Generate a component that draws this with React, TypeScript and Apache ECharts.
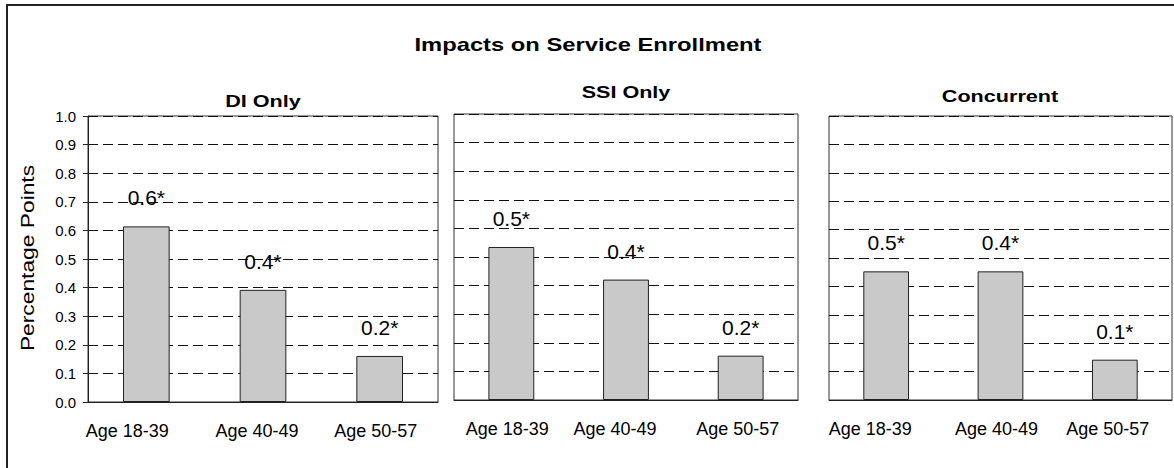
import React, { useEffect, useRef } from "react";
import * as echarts from "echarts";

// ---- Data ----
const mainTitle = "Impacts on Service Enrollment";
const yAxisTitle = "Percentage Points";
const categories = ["Age 18-39", "Age 40-49", "Age 50-57"];
const panelTitles = ["DI Only", "SSI Only", "Concurrent"];
const diValues = [0.614, 0.392, 0.161];
const ssiValues = [0.535, 0.421, 0.155];
const concurrentValues = [0.453, 0.453, 0.142];
const diLabels = ["0.6*", "0.4*", "0.2*"];
const ssiLabels = ["0.5*", "0.4*", "0.2*"];
const concurrentLabels = ["0.5*", "0.4*", "0.1*"];
const yMin = 0;
const yMax = 1;
const yStep = 0.1;

const panelValues = [diValues, ssiValues, concurrentValues];
const panelLabels = [diLabels, ssiLabels, concurrentLabels];

// ---- Layout (positions / styles only) ----
const FONT = "'Liberation Sans', Arial, Helvetica, sans-serif";
const grids = [
  { left: 88, top: 116, width: 350, height: 286 },
  { left: 454, top: 114, width: 344, height: 286 },
  { left: 829, top: 116, width: 343, height: 284 },
];
const panelTitlePos = [
  { x: 263, y: 100.5 },
  { x: 626, y: 91.7 },
  { x: 1000, y: 95.8 },
];
// leftward shift of each category label (px), per panel
const labelShift = [
  [19, 6, 4],
  [4, 11, 3],
  [16, 4, 7],
];

export default function App() {
  const ref = useRef<HTMLDivElement>(null);

  useEffect(() => {
    if (!ref.current) return;
    const chart = echarts.init(ref.current, undefined, { renderer: "svg" });

    const xAxes = grids.map((_, i) => ({
      type: "category",
      gridIndex: i,
      data: categories.map((c, j) => ({
        value: c,
        textStyle: { padding: [0, labelShift[i][j] * 2, 0, 0] },
      })),
      axisLine: { show: true, lineStyle: { color: "#222", width: 1 } },
      axisTick: { show: false },
      axisLabel: {
        color: "#000",
        fontSize: 18,
        fontFamily: FONT,
        margin: 20,
        interval: 0,
      },
      splitLine: { show: false },
    }));

    const yAxes = grids.map((_, i) => ({
      type: "value",
      gridIndex: i,
      min: yMin,
      max: yMax,
      interval: yStep,
      axisLine: { show: i === 0, lineStyle: { color: "#222", width: 1 } },
      axisTick: {
        show: i === 0,
        inside: false,
        length: 5,
        lineStyle: { color: "#222" },
      },
      axisLabel: {
        show: i === 0,
        color: "#000",
        fontSize: 15,
        fontFamily: FONT,
        margin: 12,
        formatter: (v: number) => v.toFixed(1),
      },
      splitLine: {
        show: true,
        lineStyle: { color: "#111", width: 1, type: [10, 5] },
      },
    }));

    const series = grids.map((_, i) => ({
      type: "bar",
      xAxisIndex: i,
      yAxisIndex: i,
      data: panelValues[i],
      barWidth: "40%",
      itemStyle: { color: "#c9c9c9", borderColor: "#222", borderWidth: 1 },
      label: {
        show: true,
        position: "top",
        distance: 18,
        color: "#000",
        fontSize: 21,
        fontFamily: FONT,
        formatter: (p: any) => panelLabels[i][p.dataIndex],
      },
      silent: true,
    }));

    const graphic: any[] = [
      {
        type: "rect",
        silent: true,
        shape: { x: 7, y: 5, width: 1400, height: 700 },
        style: { fill: "none", stroke: "#222", lineWidth: 2 },
        z: -1,
      },
      {
        type: "text",
        x: 588,
        y: 45,
        scaleX: 1.25,
        silent: true,
        style: {
          text: mainTitle,
          fill: "#000",
          font: `bold 19px ${FONT}`,
          align: "center",
          verticalAlign: "middle",
        },
      },
      {
        type: "text",
        x: 27,
        y: 258,
        rotation: Math.PI / 2,
        scaleX: 1.2,
        silent: true,
        style: {
          text: yAxisTitle,
          fill: "#000",
          font: `19px ${FONT}`,
          align: "center",
          verticalAlign: "middle",
        },
      },
      ...panelTitles.map((t, i) => ({
        type: "text",
        x: panelTitlePos[i].x,
        y: panelTitlePos[i].y,
        scaleX: 1.27,
        silent: true,
        style: {
          text: t,
          fill: "#000",
          font: `bold 17px ${FONT}`,
          align: "center",
          verticalAlign: "middle",
        },
      })),
    ];

    chart.setOption({
      animation: false,
      backgroundColor: "#fff",
      textStyle: { fontFamily: FONT },
      grid: grids.map((g) => ({
        ...g,
        show: true,
        borderColor: "#333",
        borderWidth: 1,
        backgroundColor: "transparent",
        containLabel: false,
      })),
      xAxis: xAxes,
      yAxis: yAxes,
      series,
      graphic,
    });

    return () => chart.dispose();
  }, []);

  return (
    <div
      ref={ref}
      style={{ position: "absolute", left: 0, top: 0, width: 1174, height: 468 }}
    />
  );
}
